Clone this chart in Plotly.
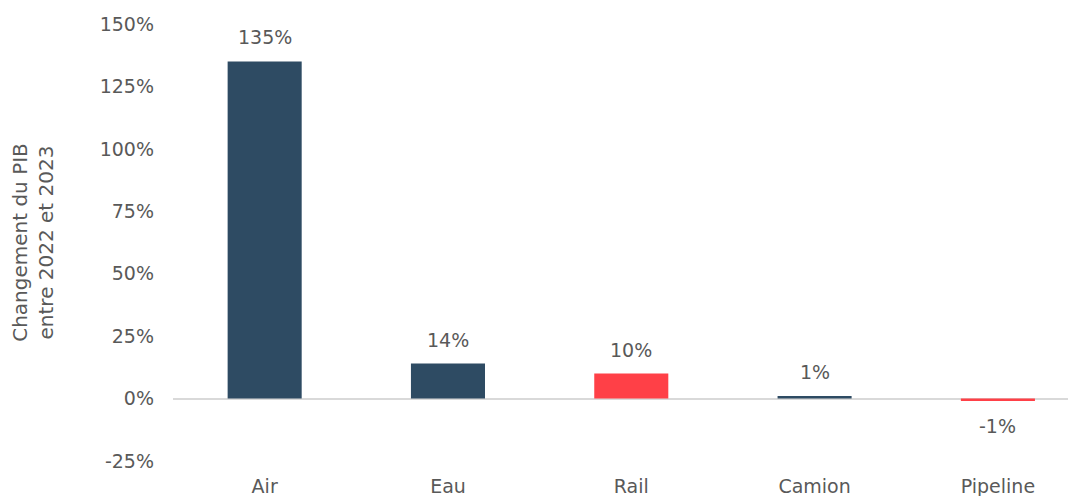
import plotly.graph_objects as go

categories = ["Air", "Eau", "Rail", "Camion", "Pipeline"]
values = [135, 14, 10, 1, -1]
colors = ["#2E4B63", "#2E4B63", "#FF4047", "#2E4B63", "#FF4047"]
y_ticks = [-25, 0, 25, 50, 75, 100, 125, 150]
y_tick_labels = [f"{v}%" for v in y_ticks]

FONT = "DejaVu Sans"
GRAY = "#595959"
FS = 19

fig = go.Figure()
fig.add_trace(go.Bar(
    x=categories, y=values, marker=dict(color=colors, line=dict(width=0)),
    width=0.404, showlegend=False, hoverinfo="skip",
))

for c, v in zip(categories, values):
    fig.add_annotation(
        x=c, y=v, text=f"{v}%", showarrow=False,
        yshift=24 if v >= 0 else -25, yanchor="middle",
        font=dict(family=FONT, size=FS, color=GRAY),
    )

# page body adds an 8px offset; size the figure so the plot lands where the reference has it
fig.update_layout(
    width=1068, height=488,
    margin=dict(l=165, r=0, t=16, b=35),
    plot_bgcolor="white", paper_bgcolor="white",
    font=dict(family=FONT, size=FS, color=GRAY),
    bargap=0.6,
    xaxis=dict(
        range=[-0.5, 4.426], showgrid=False, showline=False, ticks="",
        automargin=False,
        ticklabelstandoff=12, tickfont=dict(family=FONT, size=FS, color=GRAY),
    ),
    yaxis=dict(
        range=[-25, 150], tickvals=y_ticks, ticktext=y_tick_labels,
        automargin=False,
        showgrid=False, zeroline=True, zerolinecolor="#D9D9D9", zerolinewidth=2,
        showline=False, ticks="", ticklabelstandoff=18,
        tickfont=dict(family=FONT, size=FS, color=GRAY),
        title=dict(text="Changement du PIB<br>entre 2022 et 2023",
                   font=dict(family=FONT, size=20, color=GRAY), standoff=40),
    ),
)

fig.write_html("out.html")
